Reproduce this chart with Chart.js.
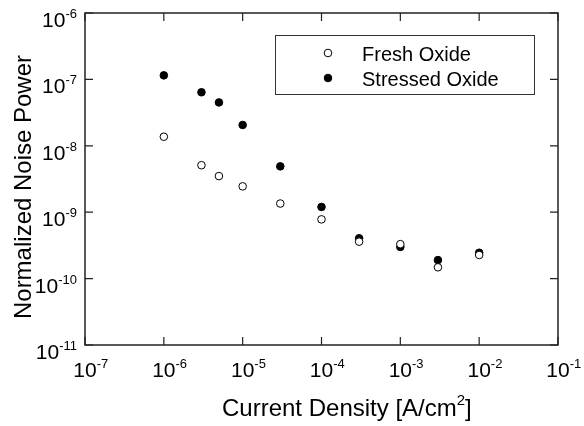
<!DOCTYPE html>
<html>
<head>
<meta charset="utf-8">
<script src="https://cdn.jsdelivr.net/npm/chart.js@4/dist/chart.umd.min.js"></script>
<style>
  body { margin: 0; background: #fff; }
  canvas { display: block; }
</style>
</head>
<body>
<canvas id="noiseChart" width="584" height="426"></canvas>
<script>
  // data
  const currentDensity = [1e-6, 3e-6, 5e-6, 1e-5, 3e-5, 1e-4, 3e-4, 1e-3, 3e-3, 1e-2];
  const freshOxide = [1.37e-8, 5.1e-9, 3.5e-9, 2.45e-9, 1.35e-9, 7.8e-10, 3.6e-10, 3.3e-10, 1.48e-10, 2.27e-10];
  const stressedOxide = [1.15e-7, 6.4e-8, 4.5e-8, 2.06e-8, 4.9e-9, 1.2e-9, 4.05e-10, 3.0e-10, 1.9e-10, 2.45e-10];
  const xTickExponents = [-7, -6, -5, -4, -3, -2, -1];
  const yTickExponents = [-11, -10, -9, -8, -7, -6];
  const seriesLabels = ['Fresh Oxide', 'Stressed Oxide'];

  const FONT = '"Liberation Sans", Arial, Helvetica, sans-serif';

  function toPoints(ys) {
    return currentDensity.map((x, i) => ({ x: x, y: ys[i] }));
  }

  // draw "10" with a superscript exponent
  function powerLabel(ctx, exp, x, y, align) {
    ctx.font = '21px ' + FONT;
    const baseW = ctx.measureText('10').width;
    ctx.font = '13px ' + FONT;
    const expW = ctx.measureText(String(exp)).width;
    let left;
    if (align === 'right') left = x - baseW - expW;
    else left = x - baseW / 2;  // centre the "10" on the tick
    ctx.textAlign = 'left';
    ctx.textBaseline = 'alphabetic';
    ctx.font = '21px ' + FONT;
    ctx.fillText('10', left, y);
    ctx.font = '13px ' + FONT;
    ctx.fillText(String(exp), left + baseW, y - 9);
  }

  const framePlugin = {
    id: 'frame',
    afterDraw(chart) {
      const ctx = chart.ctx;
      const a = chart.chartArea;
      const xs = chart.scales.x, ys = chart.scales.y;
      ctx.save();
      ctx.strokeStyle = '#222';
      ctx.fillStyle = '#000';
      ctx.lineWidth = 1.5;
      ctx.strokeRect(a.left, a.top, a.right - a.left, a.bottom - a.top);

      // inward ticks on all four sides
      ctx.lineWidth = 1.2;
      ctx.beginPath();
      xTickExponents.forEach(e => {
        const px = xs.getPixelForValue(Math.pow(10, e));
        ctx.moveTo(px, a.bottom); ctx.lineTo(px, a.bottom - 8);
        ctx.moveTo(px, a.top); ctx.lineTo(px, a.top + 8);
      });
      yTickExponents.forEach(e => {
        const py = ys.getPixelForValue(Math.pow(10, e));
        ctx.moveTo(a.left, py); ctx.lineTo(a.left + 8, py);
        ctx.moveTo(a.right, py); ctx.lineTo(a.right - 8, py);
      });
      ctx.stroke();

      // tick labels
      xTickExponents.forEach(e => {
        const px = xs.getPixelForValue(Math.pow(10, e));
        powerLabel(ctx, e, px, a.bottom + 32, 'center');
      });
      yTickExponents.forEach(e => {
        const py = ys.getPixelForValue(Math.pow(10, e));
        powerLabel(ctx, e, a.left - 8, py + 14, 'right');
      });

      // axis titles
      ctx.font = '24px ' + FONT;
      ctx.textAlign = 'left';
      ctx.textBaseline = 'alphabetic';
      const t1 = 'Current Density [A/cm';
      const tx = 222, ty = 416;
      ctx.fillText(t1, tx, ty);
      const w1 = ctx.measureText(t1).width;
      ctx.font = '15px ' + FONT;
      ctx.fillText('2', tx + w1, ty - 11);
      const w2 = ctx.measureText('2').width;
      ctx.font = '24px ' + FONT;
      ctx.fillText(']', tx + w1 + w2, ty);

      ctx.save();
      ctx.translate(31, 187);
      ctx.rotate(-Math.PI / 2);
      ctx.textAlign = 'center';
      ctx.fillText('Normalized Noise Power', 0, 0);
      ctx.restore();

      // legend box
      ctx.lineWidth = 1;
      ctx.strokeStyle = '#333';
      ctx.strokeRect(275.5, 35.5, 259, 59);
      ctx.font = '20px ' + FONT;
      chart.data.datasets.forEach((ds, i) => {
        const cy = 53 + i * 25;
        ctx.beginPath();
        ctx.arc(328, cy, ds.pointRadius, 0, Math.PI * 2);
        ctx.fillStyle = ds.backgroundColor;
        ctx.fill();
        ctx.strokeStyle = ds.borderColor;
        ctx.lineWidth = ds.borderWidth;
        ctx.stroke();
        ctx.fillStyle = '#000';
        ctx.fillText(ds.label, 362, cy + 8);
      });
      ctx.restore();
    }
  };

  const chart = new Chart(document.getElementById('noiseChart').getContext('2d'), {
    type: 'scatter',
    data: {
      datasets: [
        {
          label: seriesLabels[0],
          data: toPoints(freshOxide),
          backgroundColor: '#fff',
          borderColor: '#000',
          borderWidth: 1,
          pointRadius: 3.8
        },
        {
          label: seriesLabels[1],
          data: toPoints(stressedOxide),
          backgroundColor: '#000',
          borderColor: '#000',
          borderWidth: 1,
          pointRadius: 3.8
        }
      ]
    },
    options: {
      responsive: false,
      animation: false,
      layout: { padding: { left: 85, top: 13, right: 26, bottom: 81 } },
      plugins: { legend: { display: false }, tooltip: { enabled: false } },
      scales: {
        x: { type: 'logarithmic', min: 1e-7, max: 1e-1, display: false },
        y: { type: 'logarithmic', min: 1e-11, max: 1e-6, display: false }
      }
    },
    plugins: [framePlugin]
  });
</script>
</body>
</html>
